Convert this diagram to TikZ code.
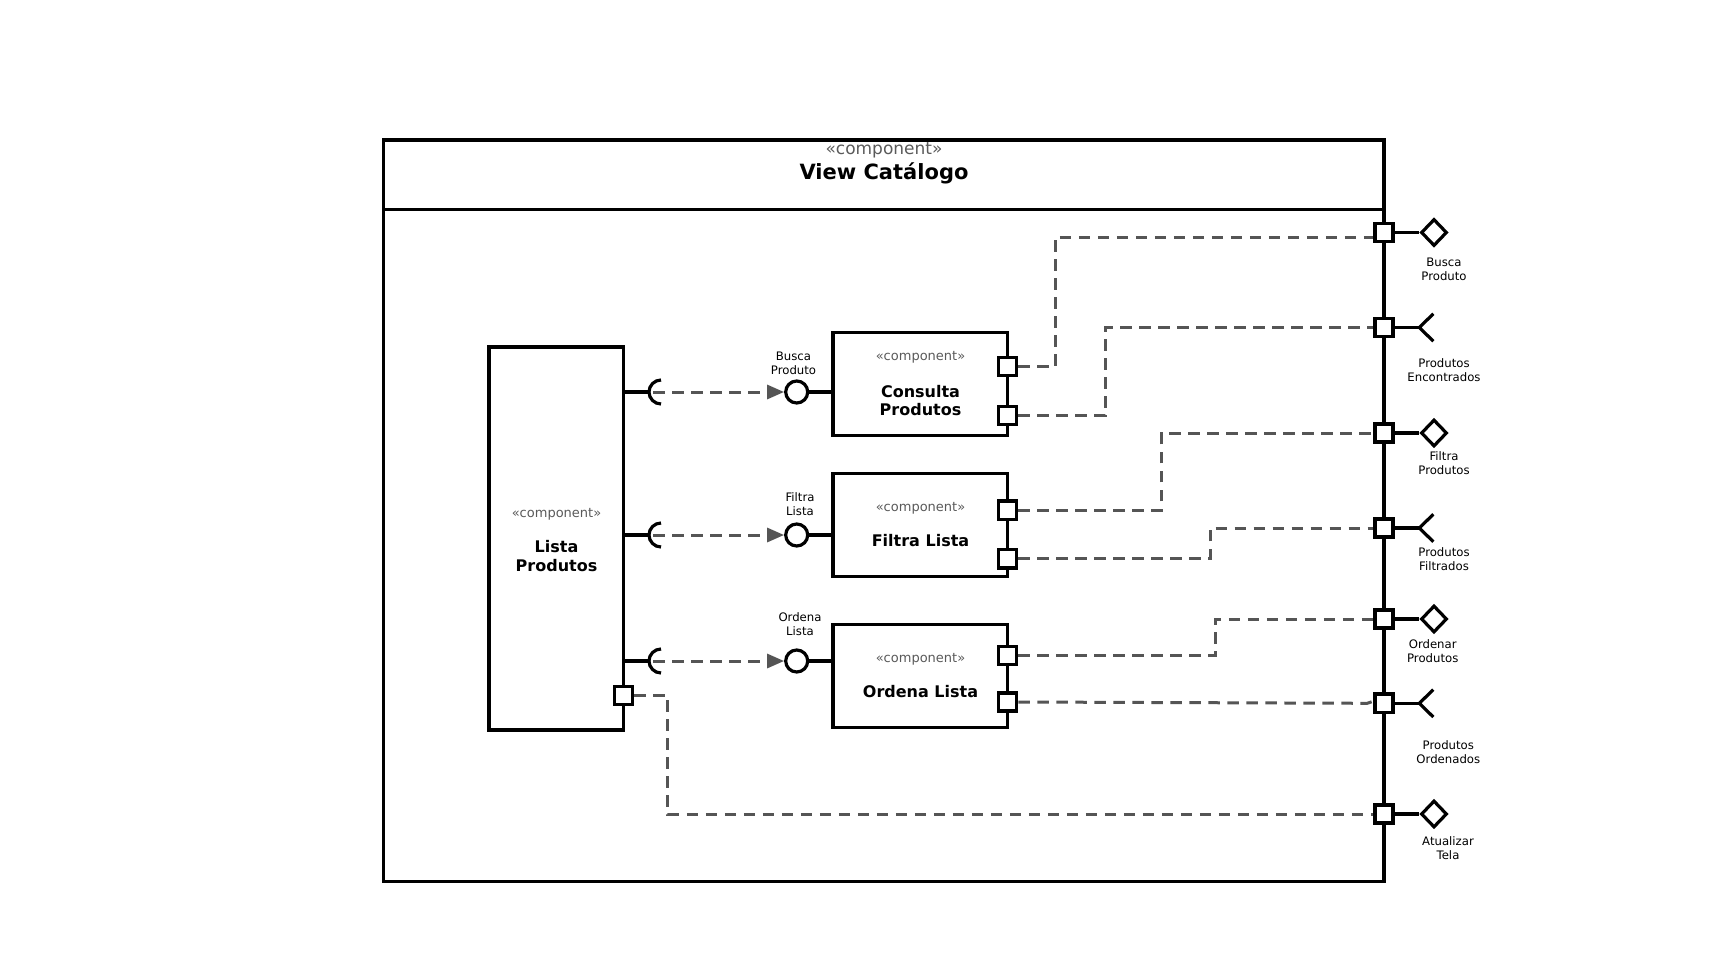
\documentclass[tikz,border=0pt]{standalone}
\usepackage{fontspec}
\setmainfont{DejaVu Sans}
\usetikzlibrary{arrows.meta,shapes.geometric}
\definecolor{dgray}{HTML}{555555}
\definecolor{stgray}{HTML}{5A5A5A}
\begin{document}
\begin{tikzpicture}[x=1pt,y=-1pt,
  outline/.style={draw=black, line width=3.2pt},
  compbox/.style={outline, rectangle, inner sep=0pt, fill=white},
  portbox/.style={draw=black, line width=3.5pt, rectangle, fill=white, minimum size=18.3pt, inner sep=0pt},
  lolli/.style={outline, circle, fill=white, minimum size=22pt, inner sep=0pt},
  provided/.style={outline, diamond, fill=white, minimum width=26pt, minimum height=27pt, inner sep=0pt},
  dep/.style={draw=dgray, line width=3pt, dash pattern=on 11.5pt off 7.5pt},
  deparrow/.style={dep, -{Triangle[length=17pt,width=14pt,fill=dgray]}},
  stereo/.style={text=stgray, inner sep=0pt, font=\fontsize{13}{15}\selectfont},
  cname/.style={inner sep=0pt, align=center, font=\bfseries\fontsize{16}{18.5}\selectfont},
  lbl/.style={inner sep=0pt, align=center, font=\fontsize{11.7}{13.8}\selectfont},
]
\path[use as bounding box] (0,0) rectangle (1728,960);

% outer component frame with its header
\draw[outline] (383.5,140) rectangle (1384,881.5);
\draw[outline] (383.5,209.4) -- (1384,209.4);
\node[text=stgray, inner sep=0pt, font=\fontsize{17}{19}\selectfont] (vst) at (884,150.5) {«component»};
\node[inner sep=0pt, font=\bfseries\fontsize{21}{24}\selectfont] (vname) at (884,173) {View Catálogo};

% inner components
\node[compbox, minimum width=134.5pt, minimum height=383pt] (lista) at (556.2,538.5) {};
\node[stereo] (listast) at (556.5,514) {«component»};
\node[cname] (listaname) at (556.5,556) {Lista\\Produtos};

\node[compbox, minimum width=174.5pt, minimum height=103pt] (consulta) at (920.3,384.2) {};
\node[stereo] (consultast) at (920.5,357.5) {«component»};
\node[cname] (consultaname) at (920.5,400.5) {Consulta\\Produtos};

\node[compbox, minimum width=174.5pt, minimum height=103pt] (filtra) at (920.3,525) {};
\node[stereo] (filtrast) at (920.5,508) {«component»};
\node[cname] (filtraname) at (920.5,541) {Filtra Lista};

\node[compbox, minimum width=174.5pt, minimum height=103pt] (ordena) at (920.3,676) {};
\node[stereo] (ordenast) at (920.5,659) {«component»};
\node[cname] (ordenaname) at (920.5,692) {Ordena Lista};

% required sockets on Lista Produtos
\foreach \n/\y in {s1/392, s2/535, s3/661} {
  \coordinate (\n) at (661,\y);
  \draw[outline] (lista.east |- \n) -- ([xshift=-12pt]\n);
  \draw[outline] ([yshift=12pt]\n) arc[start angle=90, end angle=270, radius=12pt];
}

% provided interfaces (lollipops)
\node[lolli] (c1) at (796.7,392) {};
\node[lolli] (c2) at (796.7,535) {};
\node[lolli] (c3) at (796.7,661) {};
\draw[outline] (c1.east) -- (consulta.west |- c1);
\draw[outline] (c2.east) -- (filtra.west |- c2);
\draw[outline] (c3.east) -- (ordena.west |- c3);
\node[lbl] (c1l) at (793.5,363.4) {Busca\\Produto};
\node[lbl] (c2l) at (800,504) {Filtra\\Lista};
\node[lbl] (c3l) at (800,623.8) {Ordena\\Lista};

% usage dependencies
\draw[deparrow] ([xshift=-8pt]s1) -- (c1.west);
\draw[deparrow] ([xshift=-8pt]s2) -- (c2.west);
\draw[deparrow] ([xshift=-8pt]s3) -- (c3.west);

% ports of the inner components
\node[portbox] (cp1) at (1007.5,366.5) {};
\node[portbox] (cp2) at (1007.5,415.5) {};
\node[portbox] (fq1) at (1007.5,510.2) {};
\node[portbox] (fq2) at (1007.5,558.7) {};
\node[portbox] (op1) at (1007.5,655.5) {};
\node[portbox] (op2) at (1007.5,702) {};
\node[portbox] (lp) at (623.5,695.5) {};

% ports on the boundary of View Catálogo
\node[portbox] (fp1) at (1384,232.5) {};
\node[portbox] (fp2) at (1384,327.5) {};
\node[portbox] (fp3) at (1384,433) {};
\node[portbox] (fp4) at (1384,528) {};
\node[portbox] (fp5) at (1384,619) {};
\node[portbox] (fp6) at (1384,703.3) {};
\node[portbox] (fp7) at (1384,814) {};

% provided interfaces at the boundary (diamonds)
\foreach \p/\d in {fp1/e1, fp3/e3, fp5/e5, fp7/e7} {
  \node[provided] (\d) at ([xshift=50pt]\p.center) {};
  \draw[outline] (\p.east) -- (\d.west);
}
% required interfaces at the boundary (forks)
\foreach \p/\d in {fp2/e2, fp4/e4, fp6/e6} {
  \coordinate (\d) at ([xshift=35.3pt]\p.center);
  \draw[outline] (\p.east) -- (\d);
  \draw[outline] ([shift={(14,-13.7)}]\d) -- (\d) -- ([shift={(14,13.7)}]\d);
}

\node[lbl] (e1l) at (1444,269) {Busca\\Produto};
\node[lbl] (e2l) at (1444,370.3) {Produtos\\Encontrados};
\node[lbl] (e3l) at (1444,463) {Filtra\\Produtos};
\node[lbl] (e4l) at (1444,558.8) {Produtos\\Filtrados};
\node[lbl] (e5l) at (1432.7,651) {Ordenar\\Produtos};
\node[lbl] (e6l) at (1448.3,752) {Produtos\\Ordenados};
\node[lbl] (e7l) at (1448,848) {Atualizar\\Tela};

% delegation connectors to the boundary ports
\draw[dep] (cp1.east) -- ++(37.4,0) |- ([yshift=-4.5pt]fp1.west);
\draw[dep] (cp2.east) -- ++(87,0) |- (fp2.west);
\draw[dep] (fq1.east) -- ++(143.2,0) |- (fp3.west);
\draw[dep] (fq2.east) -- ++(191.7,0) |- (fp4.west);
\draw[dep] (op1.east) -- ++(197.2,0) |- (fp5.west);
\draw[dep] (op2.east) -- ([xshift=-6pt]fp6.west) -- ([yshift=2pt]fp6.west);
\draw[dep] (lp.east) -- ++(33.5,0) |- (fp7.west);
\end{tikzpicture}
\end{document}
